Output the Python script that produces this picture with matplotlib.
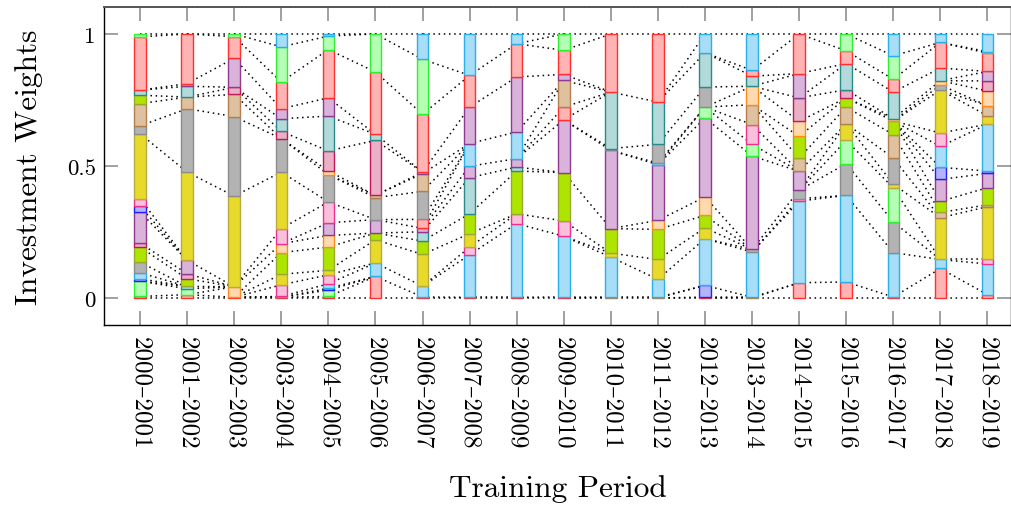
import matplotlib
matplotlib.use('Agg')
import matplotlib.pyplot as plt
import numpy as np

plt.rcParams['font.family'] = ['cmr10', 'DejaVu Serif']
plt.rcParams['axes.unicode_minus'] = False
plt.rcParams['mathtext.fontset'] = 'cm'

periods = ['2000–2001', '2001–2002', '2002–2003', '2003–2004', '2004–2005',
           '2005–2006', '2006–2007', '2007–2008', '2008–2009', '2009–2010',
           '2010–2011', '2011–2012', '2012–2013', '2013–2014', '2014–2015',
           '2015–2016', '2016–2017', '2017–2018', '2018–2019']

# colour codes -> (fill, edge)
fills = {'R': '#ffb3b3', 'G': '#b3ffb3', 'B': '#b3b3ff', 'C': '#a8ddf7',
         'M': '#f9c0dc', 'Y': '#e8da2a', 'Gy': '#b3b3b3', 'T': '#dfc09f',
         'L': '#ade500', 'O': '#ffd9b0', 'Ro': '#e9b0c6', 'V': '#d9b3d9',
         'Te': '#b3dada'}
edges = {'R': '#ff3030', 'G': '#30ee30', 'B': '#2020ff', 'C': '#2ab0e8',
         'M': '#f03090', 'Y': '#b8aa40', 'Gy': '#8c8c8c', 'T': '#b08050',
         'L': '#9aa830', 'O': '#ff8c1a', 'Ro': '#c0185a', 'V': '#8e3a8e',
         'Te': '#2a8a8a'}

# assets of each period, stacked bottom-up
stack_assets = [
    ['R', 'G', 'B', 'C', 'Gy', 'L', 'Ro', 'V', 'B', 'M', 'Y', 'Gy', 'T', 'L', 'Te', 'R', 'G'],
    ['R', 'G', 'Te', 'L', 'Ro', 'V', 'Y', 'Gy', 'T', 'Te', 'V', 'R'],
    ['R', 'O', 'Y', 'Gy', 'T', 'Ro', 'V', 'R', 'G'],
    ['R', 'C', 'M', 'Y', 'L', 'O', 'M', 'Y', 'Gy', 'Ro', 'Te', 'V', 'R', 'G', 'C'],
    ['R', 'G', 'B', 'C', 'M', 'Y', 'L', 'O', 'V', 'M', 'Gy', 'O', 'Ro', 'Te', 'V', 'R', 'G', 'C'],
    ['R', 'C', 'Y', 'L', 'V', 'Gy', 'T', 'Ro', 'Te', 'R', 'G'],
    ['R', 'C', 'Y', 'L', 'Te', 'V', 'R', 'Gy', 'T', 'V', 'R', 'G', 'C'],
    ['R', 'C', 'M', 'Y', 'L', 'Te', 'V', 'C', 'V', 'R', 'C'],
    ['R', 'C', 'M', 'L', 'Te', 'V', 'C', 'V', 'R', 'C'],
    ['R', 'C', 'M', 'L', 'V', 'R', 'T', 'V', 'R', 'G'],
    ['T', 'C', 'Y', 'L', 'V', 'Gy', 'Te', 'R'],
    ['T', 'C', 'Y', 'L', 'O', 'V', 'C', 'Gy', 'Te', 'R'],
    ['R', 'B', 'C', 'Y', 'L', 'O', 'V', 'G', 'Gy', 'Te', 'C'],
    ['T', 'C', 'Gy', 'V', 'G', 'M', 'T', 'O', 'Te', 'R', 'C'],
    ['R', 'C', 'M', 'Gy', 'V', 'T', 'L', 'O', 'Ro', 'V', 'R'],
    ['R', 'C', 'Gy', 'G', 'Y', 'T', 'L', 'Ro', 'Te', 'R', 'G'],
    ['R', 'C', 'Gy', 'G', 'Y', 'Gy', 'T', 'L', 'O', 'Te', 'R', 'G', 'C'],
    ['R', 'C', 'Y', 'T', 'L', 'V', 'B', 'C', 'M', 'Y', 'Gy', 'O', 'Te', 'R', 'C'],
    ['R', 'C', 'M', 'Y', 'T', 'L', 'V', 'B', 'C', 'Y', 'T', 'O', 'Ro', 'V', 'R', 'G', 'C'],
]

stack_weights = [
    [0.006, 0.058, 0.009, 0.023, 0.040, 0.057, 0.015, 0.118, 0.022, 0.028, 0.246, 0.030, 0.084, 0.032, 0.019, 0.202, 0.011],
    [0.013, 0.022, 0.009, 0.029, 0.019, 0.051, 0.334, 0.240, 0.044, 0.041, 0.010, 0.188],
    [0.003, 0.040, 0.343, 0.301, 0.084, 0.027, 0.110, 0.082, 0.010],
    [0.003, 0.003, 0.044, 0.040, 0.082, 0.034, 0.057, 0.214, 0.127, 0.027, 0.048, 0.038, 0.101, 0.133, 0.049],
    [0.006, 0.024, 0.007, 0.017, 0.034, 0.017, 0.088, 0.044, 0.048, 0.079, 0.103, 0.014, 0.076, 0.132, 0.069, 0.183, 0.051, 0.008],
    [0.082, 0.051, 0.088, 0.025, 0.051, 0.083, 0.009, 0.208, 0.023, 0.236, 0.144],
    [0.004, 0.041, 0.120, 0.051, 0.035, 0.013, 0.034, 0.106, 0.067, 0.006, 0.219, 0.208, 0.096],
    [0.003, 0.161, 0.029, 0.051, 0.075, 0.137, 0.043, 0.086, 0.138, 0.120, 0.157],
    [0.003, 0.279, 0.037, 0.162, 0.015, 0.032, 0.101, 0.208, 0.126, 0.037],
    [0.004, 0.230, 0.058, 0.183, 0.200, 0.048, 0.101, 0.023, 0.091, 0.062],
    [0.003, 0.152, 0.015, 0.093, 0.296, 0.007, 0.214, 0.220],
    [0.003, 0.068, 0.075, 0.114, 0.034, 0.211, 0.006, 0.071, 0.160, 0.258],
    [0.004, 0.044, 0.177, 0.041, 0.047, 0.070, 0.299, 0.041, 0.076, 0.130, 0.071],
    [0.003, 0.171, 0.010, 0.354, 0.044, 0.075, 0.075, 0.070, 0.038, 0.022, 0.138],
    [0.058, 0.309, 0.009, 0.032, 0.072, 0.050, 0.082, 0.057, 0.089, 0.092, 0.150],
    [0.061, 0.328, 0.120, 0.088, 0.063, 0.063, 0.035, 0.031, 0.099, 0.048, 0.064],
    [0.004, 0.168, 0.116, 0.129, 0.014, 0.099, 0.089, 0.051, 0.009, 0.101, 0.048, 0.089, 0.083],
    [0.112, 0.034, 0.158, 0.020, 0.042, 0.083, 0.046, 0.079, 0.051, 0.163, 0.019, 0.016, 0.048, 0.097, 0.032],
    [0.013, 0.116, 0.017, 0.200, 0.007, 0.065, 0.054, 0.009, 0.177, 0.032, 0.038, 0.056, 0.038, 0.036, 0.069, 0.006, 0.066],
]


def align(ca, wa, cb, wb):
    """Monotone alignment of same-coloured assets of two consecutive periods."""
    ta, tb = np.cumsum(wa), np.cumsum(wb)
    n, m = len(ca), len(cb)
    S = np.zeros((n + 1, m + 1))

    def msc(i, j):
        return 2.0 - 1.5 * abs(ta[i] - tb[j])

    for i in range(1, n + 1):
        for j in range(1, m + 1):
            best = max(S[i - 1, j], S[i, j - 1])
            if ca[i - 1] == cb[j - 1]:
                best = max(best, S[i - 1, j - 1] + msc(i - 1, j - 1))
            S[i, j] = best
    i, j, seq = n, m, []
    while i > 0 or j > 0:
        if i > 0 and j > 0 and ca[i - 1] == cb[j - 1] and np.isclose(S[i, j], S[i - 1, j - 1] + msc(i - 1, j - 1)):
            seq.append((i - 1, j - 1)); i -= 1; j -= 1
        elif i > 0 and (j == 0 or np.isclose(S[i, j], S[i - 1, j])):
            seq.append((i - 1, None)); i -= 1
        else:
            seq.append((None, j - 1)); j -= 1
    return seq[::-1]


fig = plt.figure(figsize=(10.12, 5.10), dpi=100)
ax = fig.add_axes([104 / 1012, 1 - 326 / 510, (1011 - 104) / 1012, (326 - 8) / 510])

x = np.arange(len(periods))
bar_w = 0.245

# dotted connector lines between cumulative tops of the same asset
for t in range(len(periods) - 1):
    ca, wa = stack_assets[t], stack_weights[t]
    cb, wb = stack_assets[t + 1], stack_weights[t + 1]
    ya, yb = 0.0, 0.0
    ax.plot([x[t], x[t + 1]], [ya, yb], color='black', lw=1.1,
            ls=(0, (1, 2.4)), zorder=2)
    for ia, jb in align(ca, wa, cb, wb):
        if ia is not None:
            ya += wa[ia]
        if jb is not None:
            yb += wb[jb]
        ax.plot([x[t], x[t + 1]], [ya, yb], color='black', lw=1.1,
                ls=(0, (1, 2.4)), zorder=2)

# stacked bars
for t in range(len(periods)):
    bottom = 0.0
    for code, w in zip(stack_assets[t], stack_weights[t]):
        ax.bar(x[t], w, bottom=bottom, width=bar_w, color=fills[code],
               edgecolor=edges[code], linewidth=1.0, zorder=3)
        bottom += w

ax.set_xlim(-0.766, 18.5)
ax.set_ylim(-0.102, 1.102)
ax.set_xticks(x)
ax.set_xticklabels(periods, rotation=-90, fontsize=18)
ax.set_yticks([0, 0.5, 1])
ax.set_yticklabels(['0', '0.5', '1'], fontsize=16.5)
ax.tick_params(axis='both', direction='in', length=10, width=1.4,
               color='#a0a0a0', top=True, right=True)
ax.tick_params(axis='x', pad=8)
ax.tick_params(axis='y', pad=6)
for s in ax.spines.values():
    s.set_color('black')
    s.set_linewidth(1.0)
ax.spines['top'].set_color('#555555')
ax.spines['top'].set_linestyle((0, (1.2, 0.9)))
ax.spines['top'].set_linewidth(1.4)

ax.set_xlabel('Training Period', fontsize=22.5, labelpad=18)
ax.set_ylabel('Investment Weights', fontsize=22.5, labelpad=17)

fig.savefig('out.png', dpi=100)
